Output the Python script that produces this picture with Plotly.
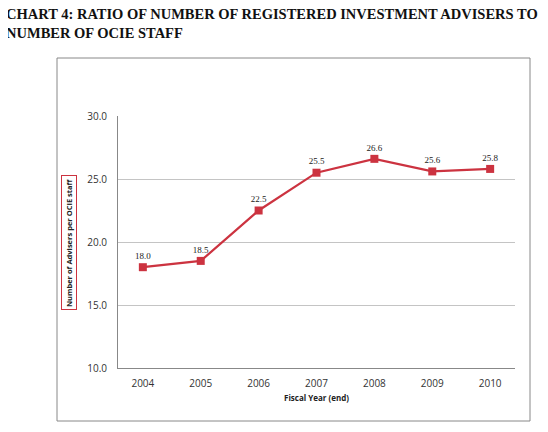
import plotly.graph_objects as go

years = ["2004", "2005", "2006", "2007", "2008", "2009", "2010"]
ratio = [18.0, 18.5, 22.5, 25.5, 26.6, 25.6, 25.8]
labels = ["18.0", "18.5", "22.5", "25.5", "26.6", "25.6", "25.8"]

W, H = 548, 432
O = 8  # page offset
L, R, T, B = 118 - O, 515 - O, 116 - O, 368 - O
pw, ph = R - L, B - T
def px(x): return (x - O - L) / pw
def py(y): return (B - (y - O)) / ph

fig = go.Figure(go.Scatter(
    x=years, y=ratio, mode="lines+markers+text", text=labels,
    textposition="top center", textfont=dict(family="Liberation Serif", size=9, color="#222"),
    line=dict(color="#cc3340", width=2.2),
    marker=dict(symbol="square", size=8, color="#cc3340"),
    cliponaxis=False,
))
fig.update_layout(
    width=W, height=H, paper_bgcolor="white", plot_bgcolor="white",
    margin=dict(l=L, r=W - R, t=T, b=H - B, autoexpand=False),
    showlegend=False,
    font=dict(family="Open Sans", size=10, color="#333"),
    xaxis=dict(type="category", showline=True, linecolor="#888", ticks="outside", ticklen=6,
               tickcolor="white", showgrid=False,
               title=dict(text="<b>Fiscal Year (end)</b>", font=dict(size=8, color="#222"), standoff=6),
               tickfont=dict(size=10)),
    yaxis=dict(range=[10, 30], dtick=5, tickformat=".1f", showline=True, linecolor="#888",
               gridcolor="#c4c4c4", zeroline=False, tickfont=dict(size=10),
               ticks="outside", ticklen=8, tickcolor="white"),
    shapes=[dict(type="rect", xref="paper", yref="paper",
                 x0=px(57), x1=px(530), y0=py(421), y1=py(58),
                 line=dict(color="#888", width=1))],
    annotations=[
        dict(text="<b>CHART 4: RATIO OF NUMBER OF REGISTERED INVESTMENT ADVISERS TO<br>NUMBER OF OCIE STAFF</b>",
             xref="paper", yref="paper", x=px(4), y=py(4),
             xanchor="left", yanchor="top", align="left", showarrow=False,
             font=dict(family="Liberation Serif", size=14.5, color="#111")),
        dict(text="<b>Number of Advisers per OCIE staff</b>", textangle=-90,
             xref="paper", yref="paper", x=px(69), y=py(243),
             xanchor="center", yanchor="middle", showarrow=False,
             bordercolor="#cc3340", borderwidth=1, borderpad=2,
             font=dict(size=7.5, color="#222")),
    ],
)
fig.write_html("out.html")
